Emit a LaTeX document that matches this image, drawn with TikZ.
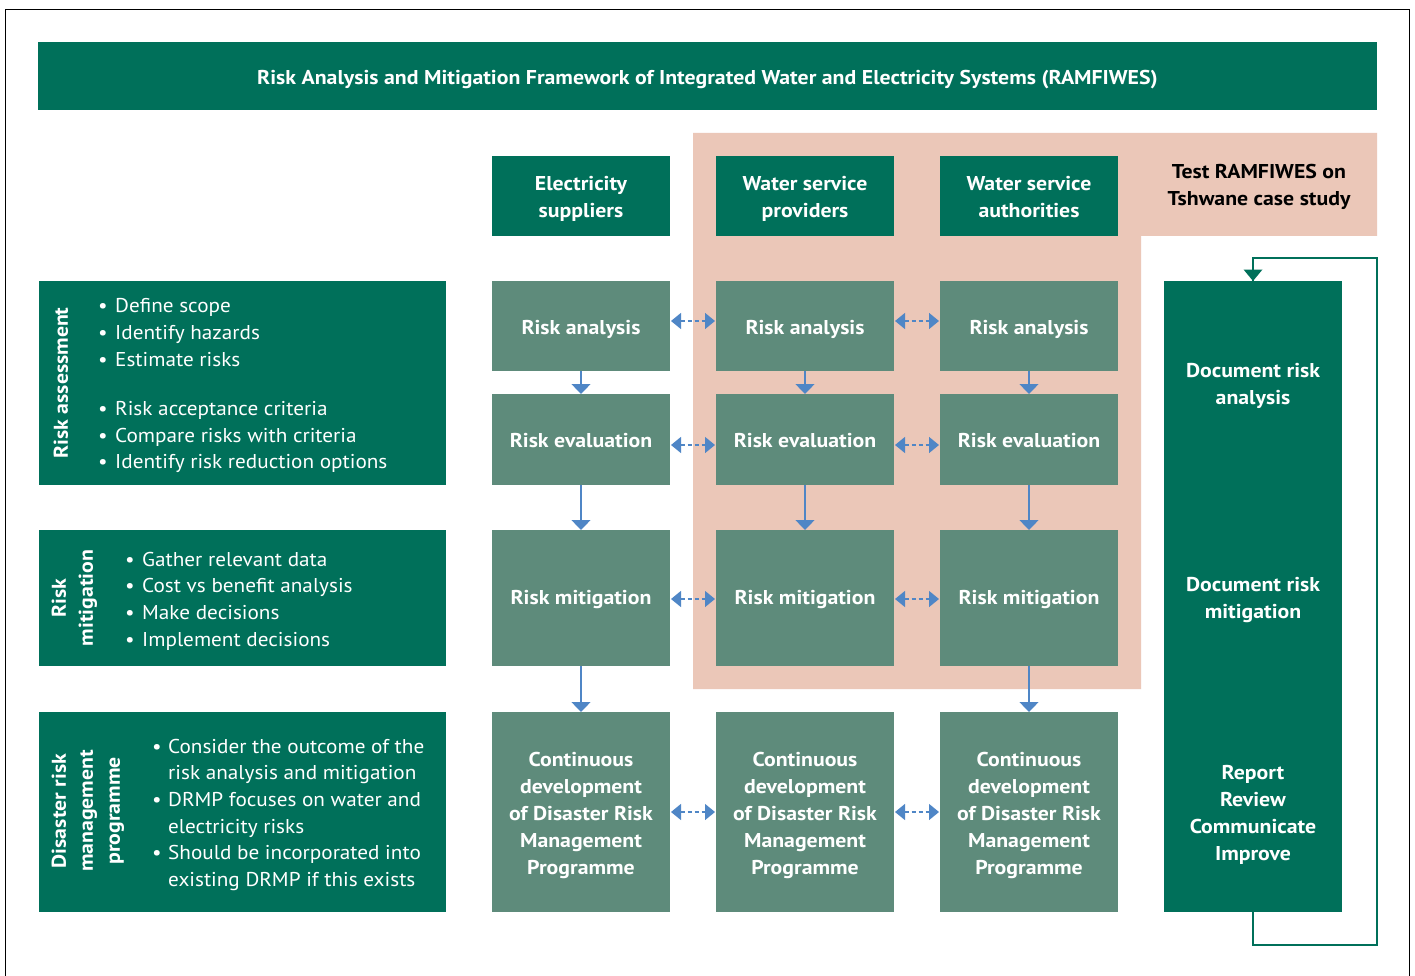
\documentclass[tikz,border=0pt]{standalone}
\usepackage{fontspec}
\setmainfont{PT Sans}[FakeStretch=1.06,BoldFeatures={FakeStretch=1.09}]
\usetikzlibrary{arrows.meta}
\definecolor{dkgreen}{RGB}{0,112,90}
\definecolor{mdgreen}{RGB}{94,139,123}
\definecolor{blush}{RGB}{235,199,184}
\definecolor{linkblue}{RGB}{79,134,198}
\tikzset{
  box/.style={inner sep=0pt, outer sep=0pt},
  darkbox/.style={box, fill=dkgreen},
  stagebox/.style={box, fill=mdgreen, minimum width=178pt},
  boxtext/.style={inner sep=0pt, text=white, align=center,
    font=\bfseries\fontsize{20}{27}\selectfont},
  listtxt/.style={inner sep=0pt, text=white, anchor=base west,
    font=\fontsize{20}{27}\selectfont},
  sidelabel/.style={inner sep=0pt, text=white, align=center, rotate=90,
    font=\bfseries\fontsize{20}{27}\selectfont},
  down/.style={draw=linkblue, line width=1.3pt,
    -{Triangle[width=19pt,length=10pt]}},
  both/.style={draw=linkblue, line width=1.3pt, dash pattern=on 4pt off 3pt,
    {Triangle[width=16pt,length=10pt]}-{Triangle[width=16pt,length=10pt]},
    shorten <=1pt, shorten >=1pt},
  loop/.style={draw=dkgreen, line width=1.5pt},
}
% one bulleted line: name, bullet x, text x, baseline y, text
\newcommand{\bulletline}[5]{%
  \node[listtxt] (#1b) at (#2,#4) {\textbullet};
  \node[listtxt] (#1) at (#3,#4) {#5};}
% caption centred in a box, set slightly low for optical balance
\newcommand{\boxcaption}[3][-3pt]{%
  \node[boxtext] (#2t) at ([yshift=#1]#2.center) {#3};}
\begin{document}
\begin{tikzpicture}[x=1pt,y=-1pt]
\useasboundingbox (0,0) rectangle (1415,976);
\fill[white] (0,0) rectangle (1415,976);
% outer frame
\draw[black, line width=1.3pt] (5.5,976) -- (5.5,9.5) -- (1409.5,9.5) -- (1409.5,976);

% case-study backdrop
\fill[blush] (693,133) -- (1377,133) -- (1377,236) -- (1141,236) -- (1141,689) -- (693,689) -- cycle;
\node[inner sep=0pt, align=center, font=\bfseries\fontsize{20}{27}\selectfont]
  (case) at (1259,187) {Test RAMFIWES on\\Tshwane case study};

% title
\node[darkbox, minimum width=1339pt, minimum height=68pt] (title) at (707.5,76) {};
\boxcaption[-4pt]{title}{Risk Analysis and Mitigation Framework of Integrated Water and Electricity Systems (RAMFIWES)}

% column headers
\node[darkbox, minimum width=178pt, minimum height=80pt] (h1) at (581,196) {};
\node[darkbox, minimum width=178pt, minimum height=80pt] (h2) at (805,196) {};
\node[darkbox, minimum width=178pt, minimum height=80pt] (h3) at (1029,196) {};
\boxcaption{h1}{Electricity\\suppliers}
\boxcaption{h2}{Water service\\providers}
\boxcaption[-1pt]{h3}{Water service\\authorities}

% process stages
\foreach \c/\x in {1/581,2/805,3/1029}{
  \node[stagebox, minimum height=90pt] (a\c) at (\x,326) {};
  \node[stagebox, minimum height=91pt] (e\c) at (\x,439.5) {};
  \node[stagebox, minimum height=136pt] (m\c) at (\x,598) {};
  \node[stagebox, minimum height=200pt] (d\c) at (\x,812) {};
  \boxcaption{a\c}{Risk analysis}
  \boxcaption[-1pt]{e\c}{Risk evaluation}
  \boxcaption[-2pt]{m\c}{Risk mitigation}
  \boxcaption{d\c}{Continuous\\development\\of Disaster Risk\\Management\\Programme}
}

% vertical flow
\foreach \c in {1,2,3}{
  \draw[down] (a\c.south) -- (e\c.north);
  \draw[down] (e\c.south) -- (m\c.north);
}
\draw[down] (m1.south) -- (d1.north);
\draw[down] (m3.south) -- (d3.north);

% exchanges between stakeholders
\foreach \p/\q in {1/2,2/3}{
  \draw[both] ([yshift=5pt]a\p.east) -- ([yshift=5pt]a\q.west);
  \draw[both] ([yshift=-5.5pt]e\p.east) -- ([yshift=-5.5pt]e\q.west);
  \draw[both] ([yshift=-1pt]m\p.east) -- ([yshift=-1pt]m\q.west);
  \draw[both] (d\p.east) -- (d\q.west);
}

% left-hand descriptions
\node[darkbox, minimum width=407pt, minimum height=204pt] (lassess) at (242.5,383) {};
\node[darkbox, minimum width=407pt, minimum height=136pt] (lmitig) at (242.5,598) {};
\node[darkbox, minimum width=407pt, minimum height=200pt] (ldrmp) at (242.5,812) {};
\node[sidelabel] (tassess) at (61,383) {Risk assessment};
\node[sidelabel] (tmitig) at (74.5,598) {Risk\\mitigation};
\node[sidelabel] (tdrmp) at (88,811) {Disaster risk\\management\\programme};

\bulletline{s1}{98}{115}{312}{Define scope}
\bulletline{s2}{98}{115}{339}{Identify hazards}
\bulletline{s3}{98}{115}{366}{Estimate risks}
\bulletline{s4}{98}{115}{415}{Risk acceptance criteria}
\bulletline{s5}{98}{115}{442}{Compare risks with criteria}
\bulletline{s6}{98}{115}{468}{Identify risk reduction options}

\bulletline{g1}{125}{142}{566}{Gather relevant data}
\bulletline{g2}{125}{142}{592}{Cost vs benefit analysis}
\bulletline{g3}{125}{142}{619}{Make decisions}
\bulletline{g4}{125}{142}{646}{Implement decisions}

\bulletline{c1}{152}{168}{753}{Consider the outcome of the}
\node[listtxt] (c1x) at (168,779) {risk analysis and mitigation};
\bulletline{c2}{152}{168}{806}{DRMP focuses on water and}
\node[listtxt] (c2x) at (168,833) {electricity risks};
\bulletline{c3}{152}{168}{859}{Should be incorporated into}
\node[listtxt] (c3x) at (168,886) {existing DRMP if this exists};

% documentation column
\node[darkbox, minimum width=178pt, minimum height=631pt] (rbox) at (1253,596.5) {};
\node[boxtext] (rdoc1) at (1253,385.5) {Document risk\\analysis};
\node[boxtext] (rdoc2) at (1253,600.5) {Document risk\\mitigation};
\node[boxtext] (rdoc3) at (1253,815) {Report\\Review\\Communicate\\Improve};

% feedback loop
\coordinate (lpA) at (1253,945);
\coordinate (lpB) at (1377,945);
\coordinate (lpC) at (1377,258);
\coordinate (lpD) at (1253,258);
\draw[loop] (rbox.south) -- (lpA) -- (lpB) -- (lpC) -- (lpD) -- (rbox.north);
\fill[dkgreen] (rbox.north) -- ++(-9.5,-11.5) -- ++(19,0) -- cycle;
\end{tikzpicture}
\end{document}
